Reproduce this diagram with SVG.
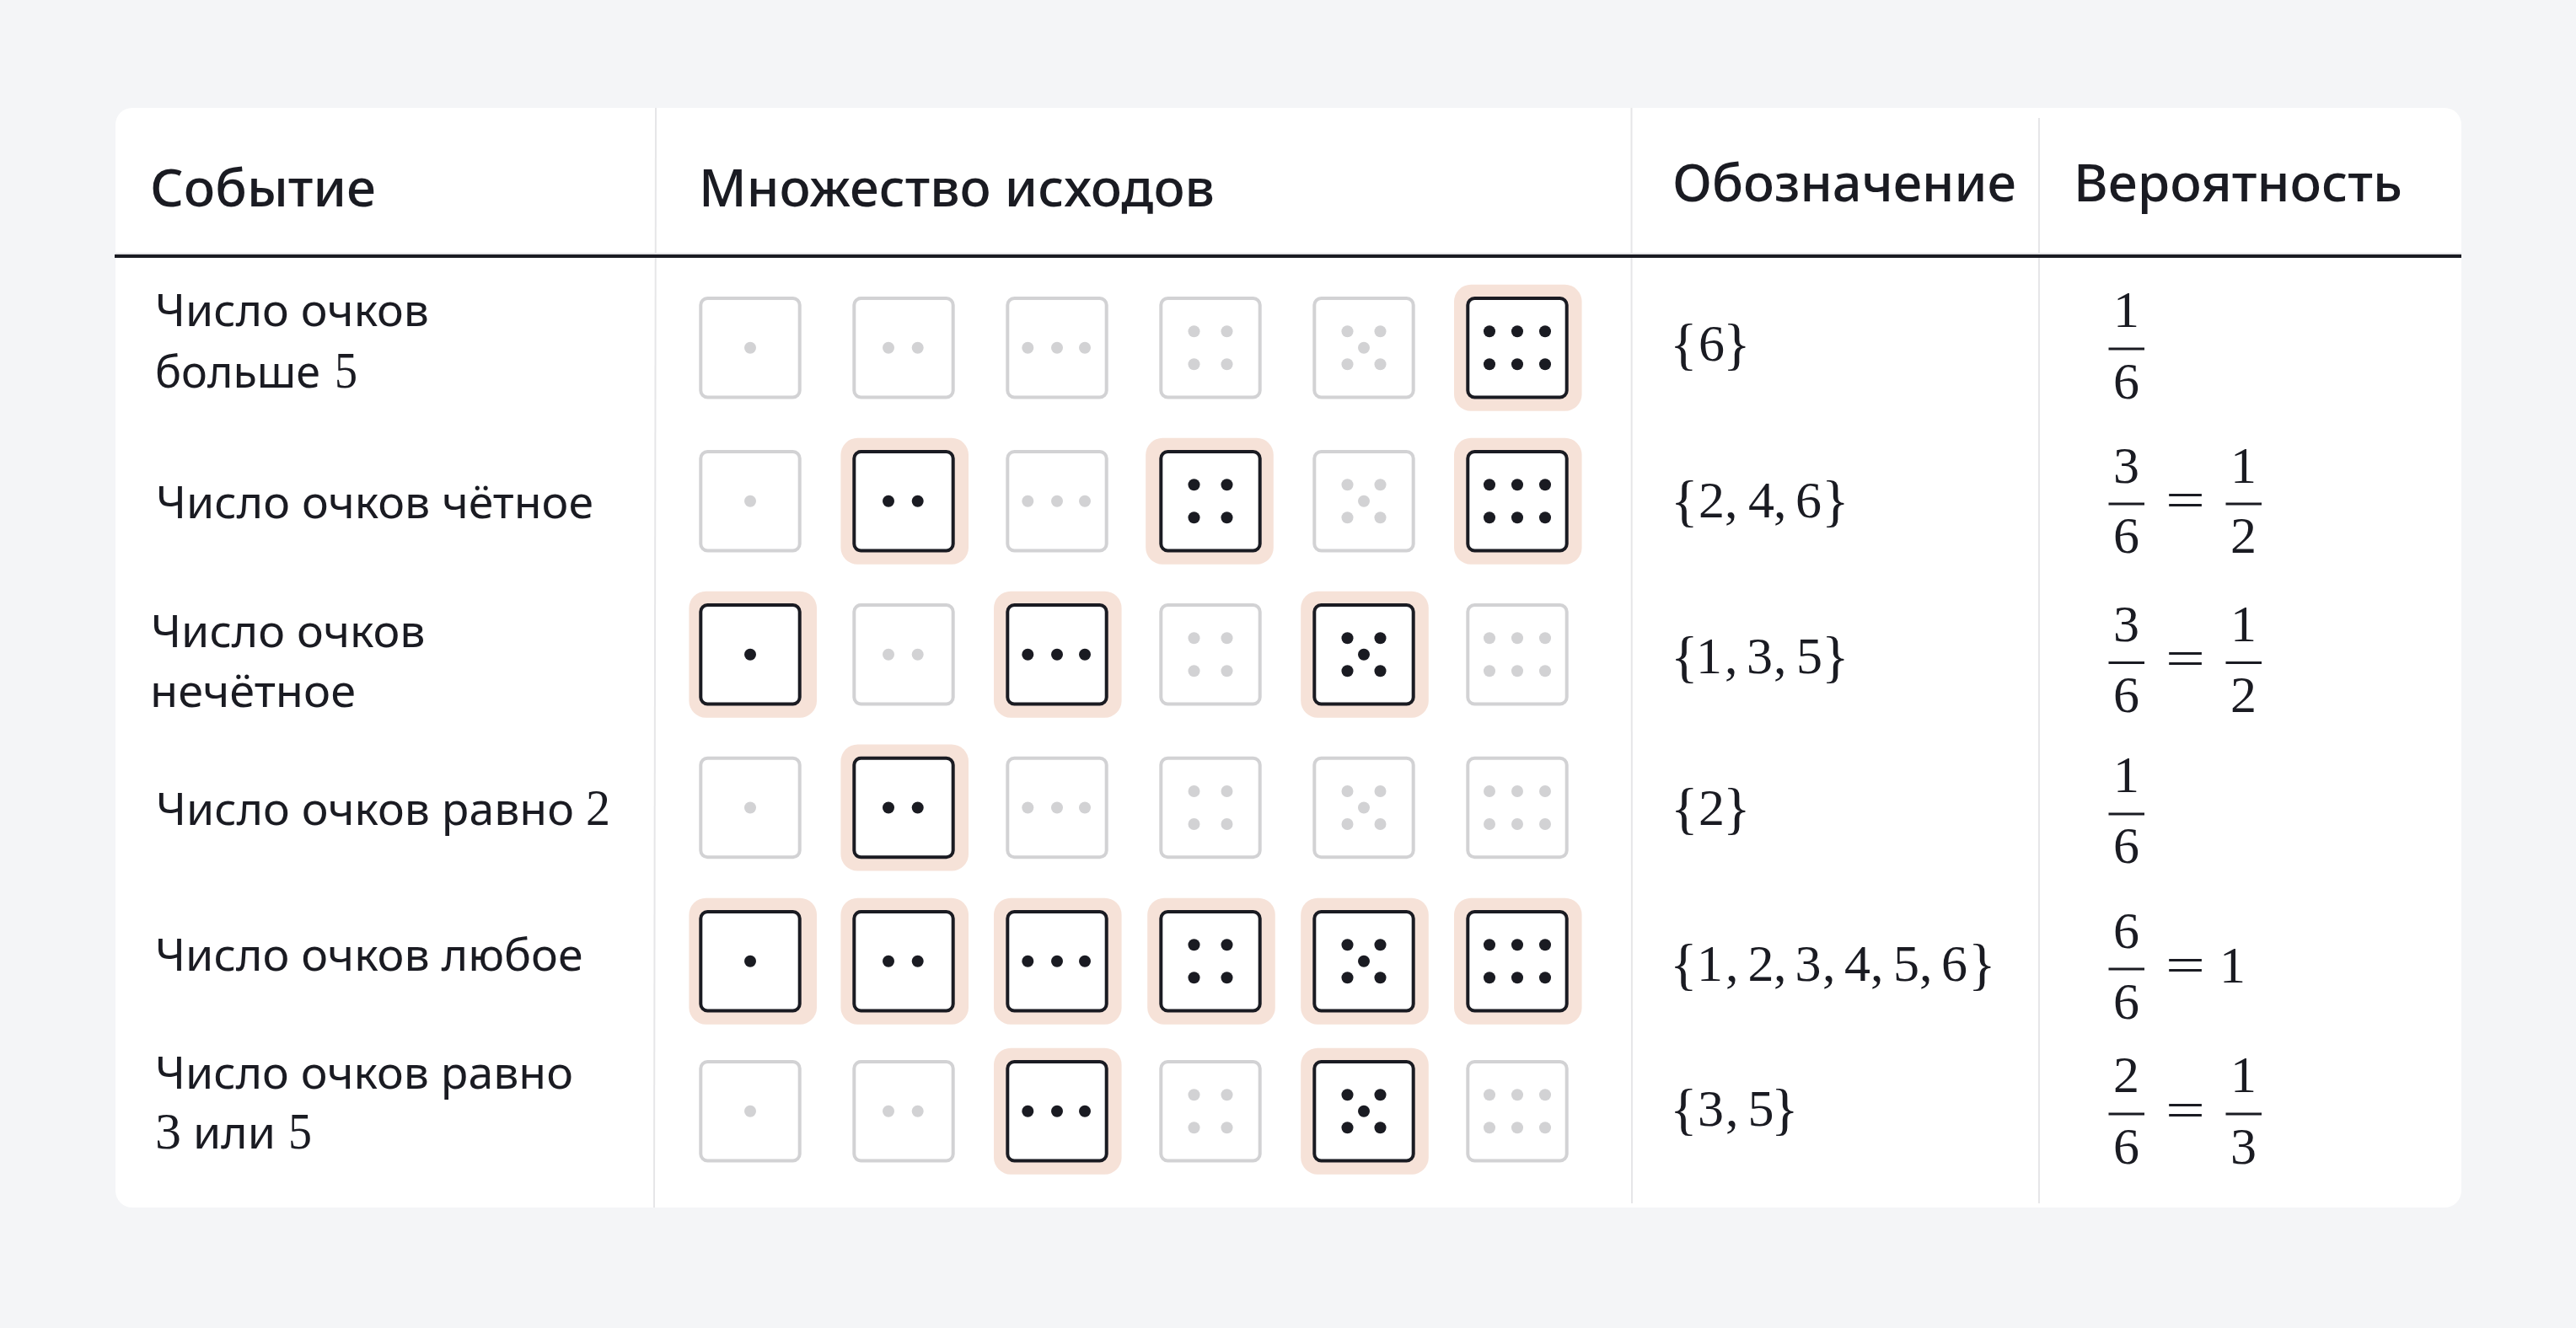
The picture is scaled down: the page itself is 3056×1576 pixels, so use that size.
<svg xmlns="http://www.w3.org/2000/svg" width="3056" height="1576" viewBox="0 0 3056 1576">
<style>
text{fill:#1a1b22}
.h{font-family:"Noto Sans",Inter,sans-serif;font-size:62px;font-weight:550}
.b{font-family:"Noto Sans",Inter,sans-serif;font-size:53px;font-weight:400}
.m{font-family:"Liberation Serif",serif;font-size:62px}
.br{font-size:68px}
.c{text-anchor:middle}
.rule{stroke:#e6e6e8;stroke-width:2;fill:none}
.bar{fill:#1a1b22}
.on{color:#1a1b22}
.off{color:#d2d2d4}
.hl{fill:#f6e2d8}
.box{fill:#fff;stroke:currentColor;stroke-width:4}
.d{fill:currentColor}
</style>
<defs>
<rect id="bg" x="-75.8" y="-75" width="151.6" height="150" rx="20" class="hl"/>
<rect id="box" x="-58.7" y="-58.7" width="117.4" height="117.4" rx="8" class="box"/>
<g id="f1"><use href="#box"/><circle r="7" class="d"/></g>
<g id="f2"><use href="#box"/><circle cx="-18" r="7" class="d"/><circle cx="16.7" r="7" class="d"/></g>
<g id="f3"><use href="#box"/><circle cx="-34.7" r="7" class="d"/><circle r="7" class="d"/><circle cx="33" r="7" class="d"/></g>
<g id="f4"><use href="#box"/><circle cx="-19.5" cy="-19.5" r="7" class="d"/><circle cx="19.5" cy="-19.5" r="7" class="d"/><circle cx="-19.5" cy="19.5" r="7" class="d"/><circle cx="19.5" cy="19.5" r="7" class="d"/></g>
<g id="f5"><use href="#f4"/><circle r="7" class="d"/></g>
<g id="f6"><use href="#box"/><circle cx="-33" cy="-19.5" r="7" class="d"/><circle cy="-19.5" r="7" class="d"/><circle cx="33" cy="-19.5" r="7" class="d"/><circle cx="-33" cy="19.5" r="7" class="d"/><circle cy="19.5" r="7" class="d"/><circle cx="33" cy="19.5" r="7" class="d"/></g>
</defs>
<rect width="3056" height="1576" fill="#f4f5f7"/>
<rect id="card" x="137" y="128" width="2783" height="1305" rx="20" fill="#fff"/>
<g id="connectors">
<line class="rule" x1="778" y1="128" x2="776" y2="1433"/>
<line class="rule" x1="1935.5" y1="128" x2="1936" y2="1428"/>
<line class="rule" x1="2419" y1="140" x2="2419" y2="1428"/>
<line class="rule" x1="137" y1="301" x2="2920" y2="301"/>
<rect class="bar" x="136" y="302" width="2784" height="4"/>
</g>
<g id="header">
<text class="h" x="178" y="245" textLength="268" lengthAdjust="spacingAndGlyphs">Событие</text>
<text class="h" x="829" y="245" textLength="612" lengthAdjust="spacingAndGlyphs">Множество исходов</text>
<text class="h" x="1984" y="239" textLength="408" lengthAdjust="spacingAndGlyphs">Обозначение</text>
<text class="h" x="2460" y="239" textLength="390" lengthAdjust="spacingAndGlyphs">Вероятность</text>
</g>
<g id="row1">
<text class="b" x="184" y="387" textLength="325" lengthAdjust="spacingAndGlyphs">Число очков</text>
<text class="b" x="184" y="460" textLength="196" lengthAdjust="spacingAndGlyphs">больше</text>
<text class="m" x="397" y="460" textLength="27" lengthAdjust="spacingAndGlyphs">5</text>
<g class="off" transform="translate(0,412.8)"><use href="#f1" x="890"/><use href="#f2" x="1072"/><use href="#f3" x="1254"/><use href="#f4" x="1436"/><use href="#f5" x="1618"/></g>
<g class="on" transform="translate(0,412.8)"><use href="#bg" x="1800.8"/><use href="#f6" x="1800"/></g>
<text class="m" x="1981 2015 2044"><tspan class="br" y="431">{</tspan><tspan y="428">6</tspan><tspan class="br" y="431">}</tspan></text>
<text class="m c" x="2522.5" y="388">1</text><rect class="bar" x="2501.5" y="412.5" width="42.5" height="3"/><text class="m c" x="2522.5" y="473">6</text>
</g>
<g id="row2">
<text class="b" x="185" y="615" textLength="519" lengthAdjust="spacingAndGlyphs">Число очков чётное</text>
<g class="off" transform="translate(0,594.8)"><use href="#f1" x="890"/><use href="#f3" x="1254"/><use href="#f5" x="1618"/></g>
<g class="on" transform="translate(0,594.8)"><use href="#bg" x="1073.2"/><use href="#f2" x="1072"/><use href="#bg" x="1435"/><use href="#f4" x="1436"/><use href="#bg" x="1800.8"/><use href="#f6" x="1800"/></g>
<text class="m" x="1982 2015 2046 2060 2074 2104 2118 2130 2161"><tspan class="br" y="617">{</tspan><tspan y="614">2, 4, 6</tspan><tspan class="br" y="617">}</tspan></text>
<text class="m c" x="2522.5" y="573">3</text><rect class="bar" x="2501.5" y="596.5" width="42.5" height="3"/><text class="m c" x="2522.5" y="656">6</text>
<text class="m" x="2569" y="613.5" textLength="47" lengthAdjust="spacingAndGlyphs">=</text>
<text class="m c" x="2661.5" y="573">1</text><rect class="bar" x="2640.5" y="596.5" width="42.5" height="3"/><text class="m c" x="2661.5" y="656">2</text>
</g>
<g id="row3">
<text class="b" x="179" y="768" textLength="325.5" lengthAdjust="spacingAndGlyphs">Число очков</text>
<text class="b" x="178" y="839" textLength="244" lengthAdjust="spacingAndGlyphs">нечётное</text>
<g class="off" transform="translate(0,776.7)"><use href="#f2" x="1072"/><use href="#f4" x="1436"/><use href="#f6" x="1800"/></g>
<g class="on" transform="translate(0,776.7)"><use href="#bg" x="893.2"/><use href="#f1" x="890"/><use href="#bg" x="1254.8"/><use href="#f3" x="1254"/><use href="#bg" x="1619"/><use href="#f5" x="1618"/></g>
<text class="m" x="1982 2012 2046 2060 2072 2104 2118 2131 2161"><tspan class="br" y="802">{</tspan><tspan y="799">1, 3, 5</tspan><tspan class="br" y="802">}</tspan></text>
<text class="m c" x="2522.5" y="761">3</text><rect class="bar" x="2501.5" y="785" width="42.5" height="3"/><text class="m c" x="2522.5" y="845">6</text>
<text class="m" x="2569" y="802" textLength="47" lengthAdjust="spacingAndGlyphs">=</text>
<text class="m c" x="2661.5" y="761">1</text><rect class="bar" x="2640.5" y="785" width="42.5" height="3"/><text class="m c" x="2661.5" y="845">2</text>
</g>
<g id="row4">
<text class="b" x="185" y="979" textLength="496" lengthAdjust="spacingAndGlyphs">Число очков равно</text>
<text class="m" x="695" y="979" textLength="29" lengthAdjust="spacingAndGlyphs">2</text>
<g class="off" transform="translate(0,958.5)"><use href="#f1" x="890"/><use href="#f3" x="1254"/><use href="#f4" x="1436"/><use href="#f5" x="1618"/><use href="#f6" x="1800"/></g>
<g class="on" transform="translate(0,958.5)"><use href="#bg" x="1073.2"/><use href="#f2" x="1072"/></g>
<text class="m" x="1982 2015 2044"><tspan class="br" y="982">{</tspan><tspan y="979">2</tspan><tspan class="br" y="982">}</tspan></text>
<text class="m c" x="2522.5" y="940">1</text><rect class="bar" x="2501.5" y="964.5" width="42.5" height="3"/><text class="m c" x="2522.5" y="1024">6</text>
</g>
<g id="row5">
<text class="b" x="184" y="1152" textLength="507.5" lengthAdjust="spacingAndGlyphs">Число очков любое</text>
<g class="on" transform="translate(0,1140.7)"><use href="#bg" x="893.2"/><use href="#f1" x="890"/><use href="#bg" x="1073.2"/><use href="#f2" x="1072"/><use href="#bg" x="1254.8"/><use href="#f3" x="1254"/><use href="#bg" x="1437"/><use href="#f4" x="1436"/><use href="#bg" x="1619"/><use href="#f5" x="1618"/><use href="#bg" x="1800.8"/><use href="#f6" x="1800"/></g>
<text class="m" x="1981 2013 2047 2061 2073.5 2104 2118 2129.5 2162 2176 2188 2219 2233 2246 2277 2291 2303 2335"><tspan class="br" y="1167">{</tspan><tspan y="1164">1, 2, 3, 4, 5, 6</tspan><tspan class="br" y="1167">}</tspan></text>
<text class="m c" x="2522.5" y="1125">6</text><rect class="bar" x="2501.5" y="1148.5" width="42.5" height="3"/><text class="m c" x="2522.5" y="1209">6</text>
<text class="m" x="2569" y="1166" textLength="47" lengthAdjust="spacingAndGlyphs">=</text>
<text class="m" x="2633" y="1166" textLength="31" lengthAdjust="spacingAndGlyphs">1</text>
</g>
<g id="row6">
<text class="b" x="184" y="1292" textLength="496" lengthAdjust="spacingAndGlyphs">Число очков равно</text>
<text class="m" x="184" y="1363" textLength="31" lengthAdjust="spacingAndGlyphs">3</text>
<text class="b" x="229" y="1363" textLength="98" lengthAdjust="spacingAndGlyphs">или</text>
<text class="m" x="342" y="1363" textLength="28" lengthAdjust="spacingAndGlyphs">5</text>
<g class="off" transform="translate(0,1318.7)"><use href="#f1" x="890"/><use href="#f2" x="1072"/><use href="#f4" x="1436"/><use href="#f6" x="1800"/></g>
<g class="on" transform="translate(0,1318.7)"><use href="#bg" x="1254.8"/><use href="#f3" x="1254"/><use href="#bg" x="1619"/><use href="#f5" x="1618"/></g>
<text class="m" x="1981 2014 2047 2061 2073.5 2101"><tspan class="br" y="1339">{</tspan><tspan y="1336">3, 5</tspan><tspan class="br" y="1339">}</tspan></text>
<text class="m c" x="2522.5" y="1296">2</text><rect class="bar" x="2501.5" y="1320.5" width="42.5" height="3"/><text class="m c" x="2522.5" y="1381">6</text>
<text class="m" x="2569" y="1337.5" textLength="47" lengthAdjust="spacingAndGlyphs">=</text>
<text class="m c" x="2661.5" y="1296">1</text><rect class="bar" x="2640.5" y="1320.5" width="42.5" height="3"/><text class="m c" x="2661.5" y="1381">3</text>
</g>
</svg>
